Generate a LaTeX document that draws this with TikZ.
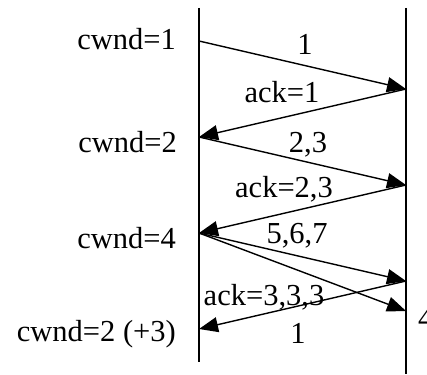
\documentclass[tikz,border=0pt]{standalone}
\usepackage{fontspec}
\setmainfont{Liberation Serif}
\usetikzlibrary{arrows.meta}
\tikzset{
  lifeline/.style={line width=1.6pt},
  msg/.style={-{Triangle[length=19pt, width=15pt]}, line width=1.4pt},
  lbl/.style={inner sep=0pt, anchor=base, font=\fontsize{30.5}{36}\selectfont},
}
\begin{document}
\begin{tikzpicture}[x=1pt, y=-1pt]
    \useasboundingbox (0,0) rectangle (427,374);
    % lifelines
    \coordinate (stop) at (199,8);
    \coordinate (sbot) at (199,362);
    \coordinate (rtop) at (406,8);
    \coordinate (rbot) at (406,374);
    \draw[lifeline] (stop) -- (sbot);
    \draw[lifeline] (rtop) -- (rbot);
    % send / receive points
    \coordinate (s1) at (199,41);
    \coordinate (r1) at (406,89);
    \coordinate (s2) at (199,137);
    \coordinate (r2) at (406,185);
    \coordinate (s3) at (199,233);
    \coordinate (r3) at (406,281);
    \coordinate (r4) at (406,311);
    \coordinate (s4) at (199,329);
    \draw[msg] (s1) -- (r1);
    \draw[msg] (r1) -- (s2);
    \draw[msg] (s2) -- (r2);
    \draw[msg] (r2) -- (s3);
    \draw[msg] (s3) -- (r3);
    \draw[msg] (s3) -- (r4);
    \draw[msg] (r3) -- (s4);
    % window sizes
    \node[lbl, anchor=base east] (cw1) at (176,50) {cwnd=1};
    \node[lbl, anchor=base east] (cw2) at (177,152) {cwnd=2};
    \node[lbl, anchor=base east] (cw4) at (176,248) {cwnd=4};
    \node[lbl, anchor=base east] (cw5) at (176,341) {cwnd=2 (+3)};
    % segment labels
    \node[lbl] (seg1) at (305,55) {1};
    \node[lbl] (ack1) at (282,103) {ack=1};
    \node[lbl] (seg23) at (308,152) {2,3};
    \node[lbl] (ack23) at (284,197) {ack=2,3};
    \node[lbl] (seg567) at (297,243) {5,6,7};
    \node[lbl] (ack333) at (264,305) {ack=3,3,3};
    \node[lbl] (seg1b) at (298,343) {1};
    \node[lbl, anchor=base west] (seg4) at (418,328) {4};
  \end{tikzpicture}
\end{document}
